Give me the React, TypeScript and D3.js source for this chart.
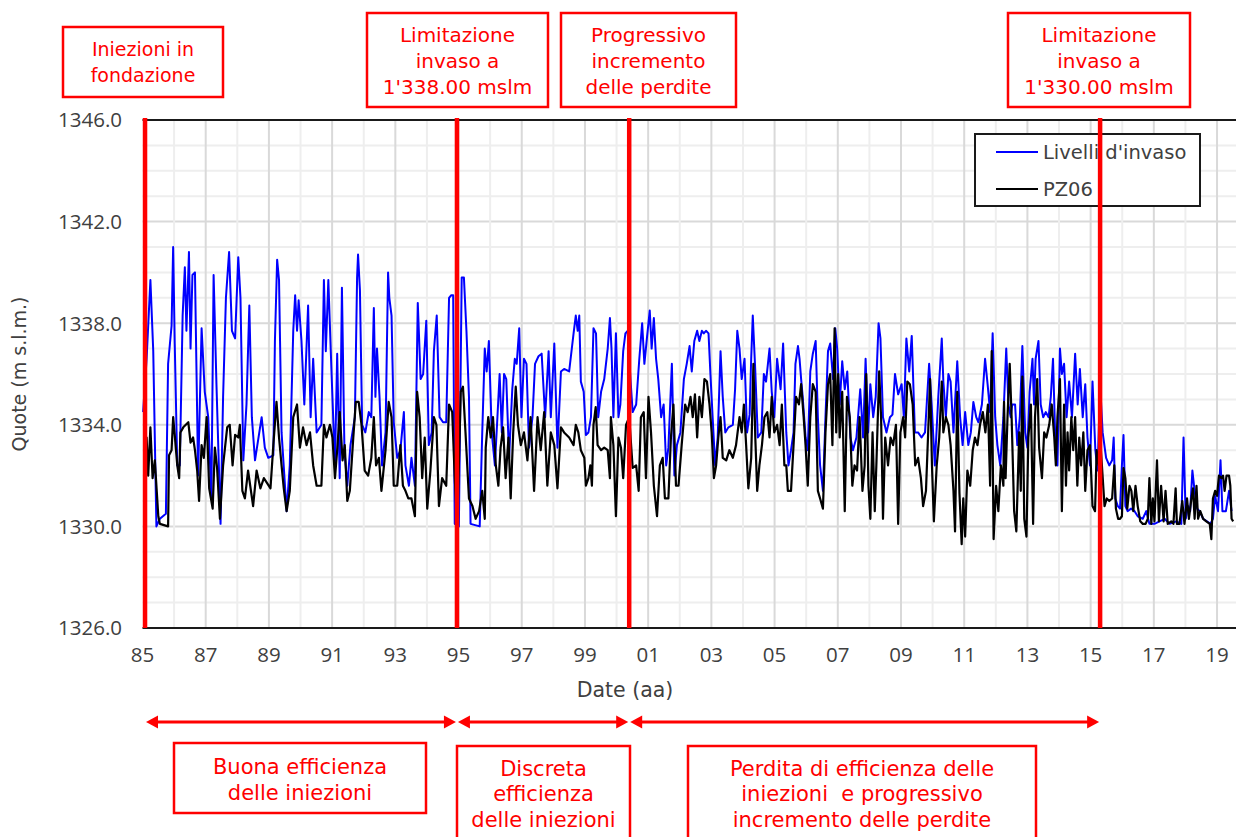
import React from 'react';
import * as d3 from 'd3';

// ---- DATA ----
const yTickValues = [1326, 1330, 1334, 1338, 1342, 1346];
const xTickYears = [1985, 1987, 1989, 1991, 1993, 1995, 1997, 1999, 2001, 2003, 2005, 2007, 2009, 2011, 2013, 2015, 2017, 2019];
const xTickLabels = ['85', '87', '89', '91', '93', '95', '97', '99', '01', '03', '05', '07', '09', '11', '13', '15', '17', '19'];
const eventDates = [1985.08, 1994.95, 2000.4, 2015.3];
const topNotes = [
  ['Iniezioni in', 'fondazione'],
  ['Limitazione', 'invaso a', "1'338.00 mslm"],
  ['Progressivo', 'incremento', 'delle perdite'],
  ['Limitazione', 'invaso a', "1'330.00 mslm"],
];
const periodNotes = [
  ['Buona efficienza', 'delle iniezioni'],
  ['Discreta', 'efficienza', 'delle iniezioni'],
  ['Perdita di efficienza delle', 'iniezioni  e progressivo', 'incremento delle perdite'],
];
const seriesNames = ["Livelli d'invaso", 'PZ06'];

const livelliInvaso: [number, number][] = [
  [1985.02,1334.5],[1985.13,1336.6],[1985.25,1339.7],[1985.34,1336.9],[1985.44,1330.0],[1985.55,1330.3],[1985.74,1330.5],[1985.81,1336.4],[1985.92,1337.9],[1985.97,1341.0],[1986.02,1337.2],[1986.10,1332.4],[1986.18,1332.4],[1986.27,1338.3],[1986.34,1340.2],[1986.39,1337.7],[1986.47,1340.8],[1986.52,1337.0],[1986.58,1339.9],[1986.66,1340.0],[1986.76,1332.0],[1986.87,1337.8],[1986.97,1335.3],
  [1987.08,1334.3],[1987.18,1331.1],[1987.25,1339.9],[1987.34,1335.6],[1987.47,1330.1],[1987.55,1335.1],[1987.64,1339.0],[1987.74,1340.8],[1987.83,1337.7],[1987.93,1337.4],[1988.03,1340.6],[1988.10,1339.0],[1988.19,1332.6],[1988.29,1334.8],[1988.38,1338.7],[1988.46,1334.3],[1988.56,1332.6],[1988.77,1334.3],[1988.87,1333.1],[1988.98,1332.7],
  [1989.14,1332.8],[1989.19,1337.3],[1989.26,1340.5],[1989.32,1339.7],[1989.40,1333.7],[1989.56,1330.6],[1989.66,1332.4],[1989.77,1337.7],[1989.83,1339.1],[1989.89,1337.7],[1989.94,1338.9],[1990.03,1337.3],[1990.12,1334.8],[1990.24,1338.7],[1990.32,1334.3],[1990.40,1336.6],[1990.51,1333.7],[1990.66,1334.0],[1990.74,1339.7],[1990.80,1336.9],[1990.88,1339.7],[1990.98,1336.1],
  [1991.09,1332.4],[1991.16,1336.8],[1991.24,1331.9],[1991.31,1339.4],[1991.39,1333.0],[1991.48,1331.6],[1991.58,1333.2],[1991.72,1334.3],[1991.79,1339.8],[1991.82,1340.7],[1991.88,1339.3],[1991.95,1334.0],[1992.05,1333.7],[1992.16,1334.5],[1992.24,1334.3],[1992.32,1338.6],[1992.37,1335.1],[1992.42,1337.0],[1992.50,1335.1],[1992.58,1332.4],[1992.69,1333.7],[1992.77,1340.0],[1992.81,1339.0],[1992.88,1338.3],[1992.95,1334.1],
  [1993.06,1332.7],[1993.16,1333.0],[1993.27,1334.5],[1993.32,1332.4],[1993.43,1331.6],[1993.51,1332.7],[1993.62,1331.6],[1993.71,1338.8],[1993.80,1335.8],[1993.88,1336.0],[1993.98,1338.1],[1994.06,1333.2],[1994.15,1333.7],[1994.22,1336.9],[1994.31,1338.3],[1994.40,1334.3],[1994.51,1334.1],[1994.61,1334.1],[1994.70,1339.0],[1994.77,1339.1],[1994.83,1339.1],[1994.88,1330.1],
  [1995.01,1330.0],[1995.10,1339.8],[1995.17,1339.8],[1995.25,1337.7],[1995.33,1335.1],[1995.38,1330.1],[1995.67,1330.0],[1995.75,1333.7],[1995.83,1337.0],[1995.89,1336.1],[1995.96,1337.3],[1996.05,1333.7],[1996.15,1332.4],[1996.23,1334.3],[1996.30,1336.0],[1996.37,1333.7],[1996.44,1336.0],[1996.51,1335.8],[1996.60,1332.7],[1996.70,1335.4],[1996.78,1336.6],[1996.84,1336.4],[1996.92,1337.8],[1996.99,1334.3],
  [1997.07,1336.6],[1997.15,1336.4],[1997.23,1333.1],[1997.34,1334.3],[1997.42,1336.4],[1997.53,1336.7],[1997.63,1336.8],[1997.74,1334.3],[1997.85,1336.9],[1997.92,1334.3],[1998.03,1337.2],[1998.13,1333.1],[1998.24,1336.1],[1998.34,1336.2],[1998.50,1336.1],[1998.64,1337.6],[1998.71,1338.3],[1998.77,1337.7],[1998.82,1338.3],[1998.87,1335.7],[1998.96,1335.3],
  [1999.03,1333.6],[1999.11,1333.7],[1999.19,1334.3],[1999.27,1337.8],[1999.35,1337.6],[1999.42,1334.3],[1999.51,1335.3],[1999.61,1335.8],[1999.72,1337.0],[1999.79,1338.2],[1999.84,1337.0],[1999.90,1334.3],[1999.98,1337.6],[2000.06,1334.3],[2000.12,1334.8],[2000.21,1336.9],[2000.28,1337.6],[2000.35,1337.7],[2000.44,1335.8],[2000.51,1334.5],[2000.62,1334.8],[2000.72,1336.6],[2000.81,1338.0],[2000.88,1336.4],[2000.96,1337.4],
  [2001.05,1338.5],[2001.11,1337.0],[2001.18,1338.2],[2001.25,1336.6],[2001.32,1335.8],[2001.41,1334.3],[2001.49,1334.8],[2001.57,1332.4],[2001.64,1333.1],[2001.75,1336.4],[2001.83,1332.0],[2001.91,1333.2],[2002.02,1333.7],[2002.13,1335.8],[2002.22,1336.4],[2002.31,1337.1],[2002.38,1336.1],[2002.46,1337.3],[2002.55,1337.7],[2002.62,1337.3],[2002.70,1337.7],[2002.76,1337.6],[2002.83,1337.7],[2002.91,1337.6],[2002.97,1336.0],
  [2003.04,1334.3],[2003.12,1332.4],[2003.20,1333.5],[2003.29,1336.9],[2003.36,1335.1],[2003.44,1333.7],[2003.54,1333.9],[2003.68,1334.0],[2003.75,1335.4],[2003.82,1337.7],[2003.89,1337.0],[2003.96,1335.8],[2004.05,1336.6],[2004.13,1333.7],[2004.21,1334.4],[2004.26,1336.6],[2004.31,1338.3],[2004.39,1336.1],[2004.47,1333.5],[2004.58,1333.7],[2004.66,1336.0],[2004.73,1335.7],[2004.84,1337.0],[2004.91,1335.3],[2004.99,1334.3],
  [2005.08,1336.6],[2005.19,1335.4],[2005.27,1337.2],[2005.37,1333.7],[2005.44,1332.4],[2005.52,1333.0],[2005.60,1333.7],[2005.66,1336.4],[2005.74,1337.1],[2005.79,1336.6],[2005.84,1335.8],[2005.89,1335.1],[2005.98,1333.5],[2006.05,1333.0],[2006.13,1336.1],[2006.21,1336.8],[2006.30,1337.3],[2006.37,1334.3],[2006.44,1332.4],[2006.53,1331.4],[2006.61,1334.3],[2006.69,1336.9],[2006.76,1337.2],[2006.85,1335.8],[2006.92,1337.8],[2006.98,1337.0],
  [2007.06,1334.8],[2007.14,1336.5],[2007.22,1335.4],[2007.30,1336.1],[2007.40,1333.5],[2007.48,1333.0],[2007.59,1333.5],[2007.71,1335.4],[2007.80,1333.5],[2007.88,1336.6],[2007.96,1333.7],[2008.03,1335.6],[2008.12,1334.3],[2008.20,1335.1],[2008.29,1338.0],[2008.35,1337.4],[2008.43,1334.3],[2008.54,1333.7],[2008.65,1334.3],[2008.73,1334.4],[2008.81,1336.0],[2008.91,1335.2],
  [2009.02,1335.6],[2009.09,1334.3],[2009.17,1337.4],[2009.26,1336.1],[2009.34,1337.5],[2009.44,1333.7],[2009.54,1333.7],[2009.65,1333.5],[2009.76,1333.7],[2009.89,1336.4],[2009.97,1334.8],[2010.07,1332.4],[2010.18,1335.1],[2010.29,1337.4],[2010.34,1335.7],[2010.42,1334.3],[2010.50,1336.0],[2010.57,1335.7],[2010.66,1333.7],[2010.78,1336.5],[2010.87,1334.3],[2010.95,1333.2],
  [2011.03,1334.5],[2011.13,1333.2],[2011.21,1333.7],[2011.29,1334.9],[2011.38,1334.3],[2011.45,1334.1],[2011.56,1334.8],[2011.66,1336.6],[2011.74,1335.6],[2011.82,1334.5],[2011.90,1337.6],[2011.98,1334.3],[2012.05,1333.2],[2012.14,1332.4],[2012.24,1334.3],[2012.33,1337.0],[2012.40,1334.8],[2012.47,1334.3],[2012.52,1334.8],[2012.61,1334.8],[2012.68,1333.2],[2012.76,1334.3],[2012.84,1337.1],[2012.93,1333.7],
  [2013.00,1333.1],[2013.07,1335.3],[2013.16,1336.6],[2013.21,1334.8],[2013.26,1336.6],[2013.35,1337.3],[2013.42,1334.8],[2013.50,1334.3],[2013.58,1334.5],[2013.67,1334.3],[2013.74,1335.1],[2013.81,1336.6],[2013.88,1333.5],[2013.95,1332.4],[2014.03,1337.0],[2014.09,1336.0],[2014.16,1336.4],[2014.24,1334.3],[2014.32,1335.7],[2014.41,1334.3],[2014.51,1336.8],[2014.59,1334.8],[2014.66,1336.2],[2014.75,1334.3],[2014.83,1335.6],[2014.90,1333.5],[2014.98,1332.4],
  [2015.06,1335.7],[2015.15,1333.0],[2015.22,1332.2],[2015.30,1335.6],[2015.38,1333.7],[2015.49,1332.7],[2015.59,1332.4],[2015.68,1332.6],[2015.73,1333.5],[2015.78,1331.1],[2015.86,1330.8],[2015.93,1330.7],[2015.99,1332.4],[2016.04,1333.6],[2016.10,1330.8],[2016.17,1330.6],[2016.28,1330.7],[2016.39,1330.6],[2016.49,1330.4],[2016.65,1330.3],[2016.76,1330.6],[2016.86,1330.1],
  [2017.02,1330.1],[2017.18,1330.2],[2017.34,1330.3],[2017.50,1330.1],[2017.71,1330.2],[2017.87,1330.1],[2017.94,1333.5],[2018.01,1330.3],[2018.08,1330.8],[2018.15,1330.6],[2018.22,1332.2],[2018.29,1331.4],[2018.37,1330.7],[2018.45,1330.6],[2018.56,1330.3],[2018.68,1330.2],[2018.79,1330.1],[2018.87,1330.3],[2018.94,1331.2],
  [2019.03,1330.6],[2019.11,1332.6],[2019.17,1330.6],[2019.28,1330.6],[2019.38,1331.4],[2019.46,1330.6],
];

const pz06: [number, number][] = [
  [1985.05,1333.4],[1985.13,1333.5],[1985.18,1332.0],[1985.25,1333.9],[1985.32,1331.9],[1985.39,1332.6],[1985.50,1330.4],[1985.55,1330.1],[1985.81,1330.0],[1985.84,1332.8],[1985.92,1333.0],[1985.97,1334.3],[1986.02,1333.6],[1986.10,1332.4],[1986.16,1331.9],[1986.20,1333.7],[1986.29,1333.9],[1986.45,1334.1],[1986.52,1333.3],[1986.60,1333.5],[1986.66,1333.0],[1986.73,1332.2],[1986.79,1331.0],[1986.87,1333.2],[1986.94,1332.7],
  [1987.03,1334.3],[1987.11,1331.5],[1987.22,1330.7],[1987.29,1333.1],[1987.36,1332.3],[1987.45,1330.3],[1987.55,1332.4],[1987.68,1333.9],[1987.76,1334.0],[1987.85,1332.4],[1987.93,1333.6],[1988.03,1333.5],[1988.08,1334.0],[1988.16,1331.4],[1988.24,1331.1],[1988.34,1332.2],[1988.50,1330.8],[1988.61,1332.2],[1988.73,1331.5],[1988.84,1331.9],
  [1989.05,1331.5],[1989.14,1333.2],[1989.24,1334.9],[1989.32,1333.5],[1989.40,1332.4],[1989.47,1331.5],[1989.56,1330.6],[1989.66,1331.4],[1989.77,1334.3],[1989.89,1334.8],[1989.98,1333.1],[1990.08,1333.9],[1990.19,1333.2],[1990.30,1333.7],[1990.40,1332.4],[1990.51,1331.6],[1990.66,1331.6],[1990.74,1334.0],[1990.82,1333.5],[1990.93,1334.0],
  [1991.01,1333.5],[1991.09,1331.9],[1991.16,1333.0],[1991.24,1334.5],[1991.33,1332.6],[1991.40,1333.2],[1991.48,1331.0],[1991.56,1331.4],[1991.67,1333.5],[1991.75,1334.9],[1991.84,1334.9],[1991.93,1334.0],[1992.03,1332.2],[1992.14,1332.0],[1992.24,1332.7],[1992.32,1334.3],[1992.39,1332.4],[1992.48,1332.7],[1992.56,1331.4],[1992.69,1333.0],[1992.79,1334.9],[1992.88,1334.3],[1992.95,1331.6],
  [1993.06,1331.6],[1993.16,1333.2],[1993.24,1331.6],[1993.32,1331.4],[1993.41,1331.1],[1993.51,1331.1],[1993.62,1330.4],[1993.69,1335.3],[1993.77,1334.3],[1993.85,1331.9],[1993.93,1333.5],[1994.01,1330.7],[1994.11,1332.2],[1994.22,1334.3],[1994.30,1334.0],[1994.38,1330.8],[1994.48,1331.9],[1994.61,1331.6],[1994.70,1334.8],[1994.80,1334.5],[1994.88,1331.9],[1994.96,1330.0],
  [1995.07,1335.3],[1995.14,1335.5],[1995.22,1333.7],[1995.33,1331.1],[1995.44,1330.8],[1995.54,1330.3],[1995.65,1330.6],[1995.75,1331.4],[1995.83,1330.3],[1995.86,1333.1],[1995.94,1334.3],[1996.02,1333.5],[1996.09,1334.3],[1996.18,1332.4],[1996.26,1331.6],[1996.33,1333.1],[1996.41,1333.9],[1996.49,1331.9],[1996.58,1333.5],[1996.65,1331.1],[1996.73,1333.7],[1996.81,1335.5],[1996.88,1334.0],[1996.97,1333.2],
  [1997.07,1333.7],[1997.18,1332.6],[1997.28,1334.3],[1997.39,1331.4],[1997.50,1334.3],[1997.60,1333.0],[1997.71,1334.5],[1997.81,1331.6],[1997.92,1333.7],[1998.03,1333.2],[1998.13,1331.5],[1998.24,1333.9],[1998.34,1333.7],[1998.50,1333.5],[1998.64,1333.2],[1998.71,1334.0],[1998.79,1333.7],[1998.87,1333.0],[1998.98,1332.7],
  [1999.03,1331.6],[1999.11,1331.9],[1999.17,1332.4],[1999.22,1331.6],[1999.27,1334.0],[1999.34,1334.7],[1999.40,1333.2],[1999.51,1333.0],[1999.61,1333.1],[1999.72,1333.0],[1999.79,1331.9],[1999.82,1334.3],[1999.90,1333.2],[1999.98,1330.4],[2000.06,1333.5],[2000.14,1333.1],[2000.21,1331.9],[2000.30,1334.0],[2000.40,1334.3],[2000.51,1332.3],[2000.62,1332.4],[2000.70,1331.4],[2000.77,1334.3],[2000.86,1334.5],[2000.93,1331.9],
  [2001.01,1335.1],[2001.09,1333.7],[2001.18,1331.6],[2001.28,1330.4],[2001.37,1332.4],[2001.46,1332.7],[2001.53,1331.1],[2001.64,1331.1],[2001.72,1333.5],[2001.80,1334.8],[2001.88,1331.6],[2001.96,1331.6],[2002.06,1333.2],[2002.17,1334.8],[2002.25,1334.5],[2002.34,1335.1],[2002.41,1334.3],[2002.48,1335.2],[2002.55,1333.5],[2002.62,1335.1],[2002.70,1334.3],[2002.78,1335.8],[2002.86,1335.7],[2002.94,1334.8],
  [2003.01,1333.7],[2003.08,1331.9],[2003.15,1332.4],[2003.22,1333.5],[2003.29,1334.3],[2003.36,1332.7],[2003.47,1332.6],[2003.57,1333.0],[2003.68,1332.7],[2003.78,1333.2],[2003.89,1334.3],[2003.96,1333.7],[2004.03,1334.8],[2004.10,1333.2],[2004.17,1331.5],[2004.26,1332.7],[2004.33,1336.4],[2004.39,1333.5],[2004.45,1331.4],[2004.52,1332.4],[2004.60,1333.2],[2004.68,1334.3],[2004.77,1334.5],[2004.84,1333.5],[2004.91,1335.1],[2004.99,1333.7],
  [2005.08,1334.0],[2005.16,1333.2],[2005.23,1334.8],[2005.31,1332.4],[2005.37,1332.4],[2005.42,1331.4],[2005.52,1331.4],[2005.60,1333.2],[2005.68,1335.1],[2005.77,1334.8],[2005.84,1335.6],[2005.92,1334.3],[2005.98,1333.2],[2006.05,1331.6],[2006.13,1334.3],[2006.21,1335.6],[2006.30,1335.3],[2006.37,1331.4],[2006.44,1331.1],[2006.53,1330.7],[2006.61,1333.7],[2006.69,1335.6],[2006.76,1336.0],[2006.83,1333.2],[2006.90,1337.8],[2006.95,1333.7],
  [2007.01,1336.0],[2007.06,1333.5],[2007.14,1335.3],[2007.22,1330.6],[2007.29,1335.1],[2007.38,1334.3],[2007.46,1331.6],[2007.53,1332.4],[2007.61,1332.2],[2007.69,1334.3],[2007.78,1331.4],[2007.85,1332.4],[2007.90,1336.0],[2007.97,1331.6],[2008.03,1330.3],[2008.10,1333.7],[2008.17,1330.6],[2008.22,1332.4],[2008.31,1336.1],[2008.37,1334.3],[2008.43,1330.3],[2008.50,1333.5],[2008.59,1332.4],[2008.67,1333.5],[2008.75,1333.2],[2008.84,1334.0],[2008.91,1330.1],[2008.98,1333.7],
  [2009.07,1334.3],[2009.13,1333.5],[2009.20,1335.7],[2009.28,1335.6],[2009.37,1334.8],[2009.45,1332.4],[2009.54,1332.7],[2009.63,1331.9],[2009.70,1330.8],[2009.79,1331.4],[2009.86,1333.7],[2009.92,1335.8],[2009.98,1332.4],[2010.04,1330.2],[2010.13,1332.4],[2010.21,1333.5],[2010.29,1335.7],[2010.34,1333.7],[2010.42,1334.3],[2010.50,1334.0],[2010.57,1333.2],[2010.66,1331.4],[2010.71,1329.8],[2010.78,1335.3],[2010.85,1331.3],[2010.92,1329.3],[2010.97,1331.1],
  [2011.03,1329.6],[2011.10,1332.2],[2011.19,1331.6],[2011.27,1333.0],[2011.34,1333.5],[2011.42,1333.2],[2011.50,1334.0],[2011.59,1334.5],[2011.67,1333.7],[2011.75,1334.8],[2011.82,1331.6],[2011.87,1336.9],[2011.93,1329.5],[2012.01,1331.6],[2012.08,1330.6],[2012.16,1332.4],[2012.24,1331.6],[2012.26,1334.9],[2012.31,1331.9],[2012.37,1334.3],[2012.44,1336.4],[2012.50,1334.3],[2012.58,1330.6],[2012.65,1329.8],[2012.74,1333.7],[2012.79,1331.4],[2012.84,1335.9],[2012.90,1330.3],[2012.97,1329.6],
  [2013.03,1333.5],[2013.11,1334.8],[2013.18,1330.1],[2013.24,1334.3],[2013.31,1335.8],[2013.37,1333.1],[2013.46,1331.9],[2013.53,1333.7],[2013.60,1333.5],[2013.69,1334.0],[2013.77,1334.8],[2013.85,1333.5],[2013.90,1332.4],[2013.95,1334.3],[2014.03,1335.8],[2014.09,1330.6],[2014.16,1334.8],[2014.22,1331.6],[2014.27,1333.7],[2014.32,1332.2],[2014.39,1334.3],[2014.45,1333.0],[2014.51,1334.3],[2014.58,1331.6],[2014.64,1333.5],[2014.70,1332.4],[2014.77,1333.7],[2014.83,1331.4],[2014.90,1333.0],[2014.98,1333.2],
  [2015.06,1330.8],[2015.14,1330.6],[2015.19,1333.0],[2015.26,1332.4],[2015.30,1333.5],[2015.44,1330.8],[2015.51,1331.1],[2015.59,1331.0],[2015.68,1331.1],[2015.75,1332.4],[2015.80,1330.7],[2015.87,1330.3],[2015.93,1330.3],[2015.99,1330.4],[2016.04,1332.3],[2016.10,1331.9],[2016.16,1330.7],[2016.23,1331.6],[2016.29,1331.4],[2016.35,1330.6],[2016.42,1331.6],[2016.49,1330.8],[2016.57,1330.2],[2016.65,1330.1],[2016.74,1330.1],[2016.81,1330.3],[2016.86,1331.9],[2016.92,1330.1],[2016.97,1331.1],
  [2017.02,1330.2],[2017.10,1332.6],[2017.16,1330.2],[2017.23,1331.6],[2017.31,1330.2],[2017.37,1331.4],[2017.44,1330.1],[2017.55,1330.2],[2017.62,1330.1],[2017.69,1331.5],[2017.73,1330.1],[2017.81,1330.1],[2017.90,1331.0],[2017.97,1330.1],[2018.05,1331.1],[2018.11,1330.3],[2018.19,1331.1],[2018.24,1331.5],[2018.29,1330.3],[2018.35,1331.6],[2018.40,1330.3],[2018.47,1330.6],[2018.56,1330.3],[2018.66,1330.2],[2018.77,1330.1],[2018.82,1329.5],[2018.87,1331.1],[2018.94,1331.4],
  [2019.00,1331.2],[2019.06,1332.0],[2019.14,1331.9],[2019.19,1332.0],[2019.24,1331.4],[2019.30,1332.0],[2019.38,1332.0],[2019.42,1331.6],[2019.46,1330.3],[2019.51,1330.2],
];

const TICK_FONT = "'Open Sans', 'DejaVu Sans', sans-serif";
const TEXT_FONT = "'DejaVu Sans', 'Open Sans', sans-serif";
const RED = '#ff0000';
const AXIS_TEXT = '#404040';

export default function App() {
  const W = 1236;
  const H = 837;
  const left = 142.5;
  const right = 1236;
  const top = 120;
  const bottom = 628;

  const x = d3.scaleLinear().domain([1985, 2019.6]).range([left, right]);
  const y = d3.scaleLinear().domain([1326, 1346]).range([bottom, top]);
  const line = d3
    .line<[number, number]>()
    .x((d) => x(d[0]))
    .y((d) => y(d[1]));

  const hGrid = d3.range(1327, 1346);
  const vGrid = d3.range(1986, 2020);

  const topBoxes = [
    { x: 63, y: 27, w: 160, h: 70, base: [56, 82], fs: 19 },
    { x: 367, y: 13, w: 181, h: 94, base: [42, 68, 94], fs: 20 },
    { x: 561, y: 13, w: 175, h: 94, base: [42, 68, 94], fs: 20 },
    { x: 1008, y: 13, w: 182, h: 94, base: [42, 68, 94], fs: 20 },
  ];
  const bottomBoxes = [
    { x: 174, y: 743, w: 252, h: 70, base: [774, 800] },
    { x: 457, y: 746, w: 173, h: 100, base: [776, 801, 827] },
    { x: 688, y: 746, w: 348, h: 100, base: [776, 801, 827] },
  ];
  const arrowY = 722;

  const arrow = (x1: number, x2: number, key: string) => {
    const hl = 12;
    const hh = 6.5;
    return (
      <g key={key}>
        <line x1={x1 + hl - 1} x2={x2 - hl + 1} y1={arrowY} y2={arrowY} stroke={RED} strokeWidth={3} />
        <polygon points={`${x1},${arrowY} ${x1 + hl},${arrowY - hh} ${x1 + hl},${arrowY + hh}`} fill={RED} />
        <polygon points={`${x2},${arrowY} ${x2 - hl},${arrowY - hh} ${x2 - hl},${arrowY + hh}`} fill={RED} />
      </g>
    );
  };

  return (
    <svg
      width={W}
      height={H}
      viewBox={`0 0 ${W} ${H}`}
      style={{ position: 'absolute', left: 0, top: 0, background: '#ffffff', fontFamily: TEXT_FONT }}
    >
      <rect x={0} y={0} width={W} height={H} fill="#ffffff" />
      {/* grid */}
      {hGrid.map((v) => (
        <line
          key={`h${v}`}
          x1={left}
          x2={right}
          y1={y(v)}
          y2={y(v)}
          stroke={(v - 1326) % 4 === 0 ? '#d9d9d9' : '#eeeeee'}
          strokeWidth={2}
        />
      ))}
      {vGrid.map((v) => (
        <line
          key={`v${v}`}
          x1={x(v)}
          x2={x(v)}
          y1={top}
          y2={bottom}
          stroke={v % 2 === 1 ? '#d9d9d9' : '#eeeeee'}
          strokeWidth={2}
        />
      ))}
      {/* axes border */}
      <line x1={left} x2={right} y1={top} y2={top} stroke="#1a1a1a" strokeWidth={2} />
      <line x1={left} x2={right} y1={bottom} y2={bottom} stroke="#1a1a1a" strokeWidth={2} />

      {/* series */}
      <path d={line(livelliInvaso) || ''} fill="none" stroke="#0000ff" strokeWidth={2} strokeLinejoin="round" />
      <path d={line(pz06) || ''} fill="none" stroke="#000000" strokeWidth={2.2} strokeLinejoin="round" />

      {/* y ticks */}
      {yTickValues.map((v) => (
        <text key={`yt${v}`} x={122} y={y(v)} dy="0.36em" textAnchor="end" fontSize={20.5} fill={AXIS_TEXT} fontFamily={TICK_FONT}>
          {v.toFixed(1)}
        </text>
      ))}
      {/* x ticks */}
      {xTickYears.map((v, i) => (
        <text key={`xt${v}`} x={x(v)} y={662} textAnchor="middle" fontSize={20.5} fill={AXIS_TEXT} fontFamily={TICK_FONT}>
          {xTickLabels[i]}
        </text>
      ))}
      <text x={625} y={697} textAnchor="middle" fontSize={20.5} fill={AXIS_TEXT}>
        Date (aa)
      </text>
      <text
        transform={`translate(26, ${(top + bottom) / 2}) rotate(-90)`}
        textAnchor="middle"
        fontSize={19}
        fill={AXIS_TEXT}
      >
        Quote (m s.l.m.)
      </text>

      {/* legend */}
      <rect x={975} y={134} width={225} height={72} fill="#ffffff" stroke="#1a1a1a" strokeWidth={2} />
      <line x1={996} x2={1038} y1={152} y2={152} stroke="#0000ff" strokeWidth={2} />
      <text x={1043} y={159} fontSize={19.5} fill={AXIS_TEXT}>
        {seriesNames[0]}
      </text>
      <line x1={996} x2={1038} y1={189} y2={189} stroke="#000000" strokeWidth={2} />
      <text x={1043} y={196} fontSize={19.5} fill={AXIS_TEXT}>
        {seriesNames[1]}
      </text>

      {/* event lines */}
      {eventDates.map((d, i) => (
        <line key={`ev${i}`} x1={x(d)} x2={x(d)} y1={top - 2} y2={bottom} stroke={RED} strokeWidth={4.5} />
      ))}

      {/* top notes */}
      {topNotes.map((lines, i) => {
        const b = topBoxes[i];
        return (
          <g key={`tn${i}`}>
            <rect x={b.x} y={b.y} width={b.w} height={b.h} fill="#ffffff" stroke={RED} strokeWidth={2.5} />
            {lines.map((t, j) => (
              <text key={j} x={b.x + b.w / 2} y={b.base[j]} textAnchor="middle" fontSize={b.fs} fill={RED}>
                {t}
              </text>
            ))}
          </g>
        );
      })}

      {/* period arrows */}
      {eventDates.slice(0, -1).map((d, i) => arrow(x(d) + 1, x(eventDates[i + 1]) - 1, `ar${i}`))}

      {/* period notes */}
      {periodNotes.map((lines, i) => {
        const b = bottomBoxes[i];
        return (
          <g key={`pn${i}`}>
            <rect x={b.x} y={b.y} width={b.w} height={b.h} fill="#ffffff" stroke={RED} strokeWidth={2.5} />
            {lines.map((t, j) => (
              <text
                key={j}
                x={b.x + b.w / 2}
                y={b.base[j]}
                textAnchor="middle"
                fontSize={21}
                fill={RED}
                style={{ whiteSpace: 'pre' }}
              >
                {t}
              </text>
            ))}
          </g>
        );
      })}
    </svg>
  );
}
